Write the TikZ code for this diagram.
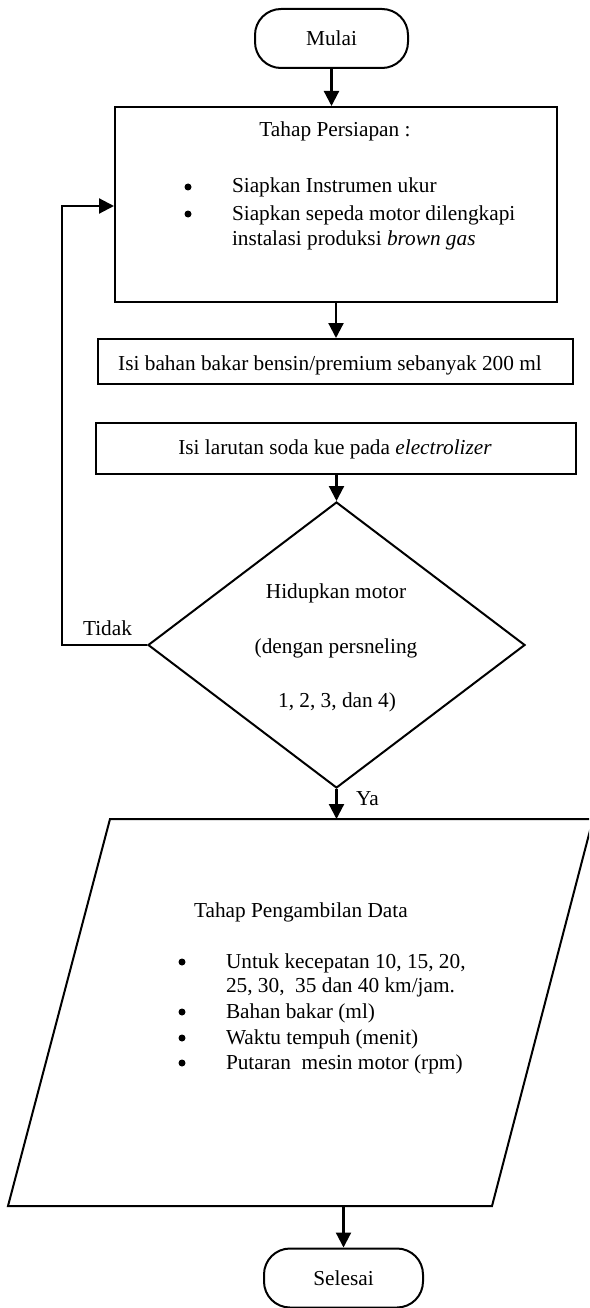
\documentclass[tikz,border=0pt]{standalone}
\usepackage{fontspec}
\setmainfont{Liberation Serif}
\usetikzlibrary{arrows.meta,shapes.geometric}
\begin{document}
\begin{tikzpicture}[x=1pt,y=-1pt,
  line width=2pt,
  txt/.style={font=\fontsize{21.3}{26}\selectfont, inner sep=0pt},
  term/.style={draw, rounded corners=26pt, minimum width=153pt, minimum height=59pt, inner sep=0pt, font=\fontsize{21.3}{26}\selectfont},
  procbox/.style={draw, inner sep=0pt},
  arr/.style={line width=2.2pt, -{Triangle[length=15pt,width=15pt]}},
  bul/.style={circle, fill, inner sep=0pt, minimum size=7pt, draw=none}
]
\useasboundingbox (0,0) rectangle (589,1308);
\clip (0,0) rectangle (589,1308);

% start
\node[term] (mulai) at (331.5,38.5) {Mulai};

% preparation box
\node[procbox, minimum width=442pt, minimum height=195pt] (prep) at (336,204.5) {};
\node[txt, anchor=base] (prepT) at (335,137) {Tahap Persiapan :};
\node[bul] (pb1) at (188,187) {};
\node[txt, anchor=base west] (pl1) at (231,193) {Siapkan Instrumen ukur};
\node[bul] (pb2) at (188,214) {};
\node[txt, anchor=base west] (pl2) at (231,220) {Siapkan sepeda motor dilengkapi};
\node[txt, anchor=base west] (pl3) at (231,245) {instalasi produksi \textit{brown gas}};

% fuel box
\node[procbox, minimum width=475pt, minimum height=45pt] (isi1) at (335.5,361.5) {};
\node[txt, anchor=base] (isi1T) at (330,370) {Isi bahan bakar bensin/premium sebanyak 200 ml};

% electrolyte box
\node[procbox, minimum width=480pt, minimum height=51pt] (isi2) at (336,448.5) {};
\node[txt, anchor=base] (isi2T) at (335,454) {Isi larutan soda kue pada \textit{electrolizer}};

% decision
\node[draw, diamond, minimum width=377pt, minimum height=286pt, inner sep=0pt] (dec) at (336.5,645) {};
\node[txt, anchor=base] (decT1) at (336,598) {Hidupkan motor};
\node[txt, anchor=base] (decT2) at (336,653) {(dengan persneling};
\node[txt, anchor=base] (decT3) at (337,707) {1, 2, 3, dan 4)};
\node[txt, anchor=base west] (tidak) at (82,635) {Tidak};
\node[txt, anchor=base west] (ya) at (355,805) {Ya};

% data parallelogram
\coordinate (pTL) at (110,819);
\coordinate (pTR) at (593,819);
\coordinate (pBR) at (492,1206);
\coordinate (pBL) at (8,1206);
\draw (pTL) -- (pTR) -- (pBR) -- (pBL) -- cycle;
\coordinate (dataIn) at (336.5,819);
\coordinate (dataOut) at (343.5,1206);
\node[txt, anchor=base west] (dataT) at (193,917) {Tahap Pengambilan Data};
\node[bul] (db1) at (182,962) {};
\node[txt, anchor=base west] (dl1) at (225,968) {Untuk kecepatan 10, 15, 20,};
\node[txt, anchor=base west] (dl2) at (225,992) {25, 30,\ \ 35 dan 40 km/jam.};
\node[bul] (db2) at (182,1012) {};
\node[txt, anchor=base west] (dl3) at (225,1018) {Bahan bakar (ml)};
\node[bul] (db3) at (182,1038) {};
\node[txt, anchor=base west] (dl4) at (225,1044) {Waktu tempuh (menit)};
\node[bul] (db4) at (182,1063) {};
\node[txt, anchor=base west] (dl5) at (225,1069) {Putaran\ \ mesin motor (rpm)};

% end
\node[term, minimum width=159pt] (selesai) at (343.5,1278) {Selesai};

% connectors
\coordinate (loopTop) at (62,206);
\draw[arr] (mulai.south) -- (mulai.south |- prep.north);
\draw[arr] (prep.south) -- (prep.south |- isi1.north);
\draw[arr] (isi2.south -| dec.north) -- (dec.north);
\draw[arr] (dec.west) -| (loopTop) -- (loopTop -| prep.west);
\draw[arr] (dec.south) -- (dataIn);
\draw[arr] (dataOut) -- (selesai.north);
\end{tikzpicture}
\end{document}
